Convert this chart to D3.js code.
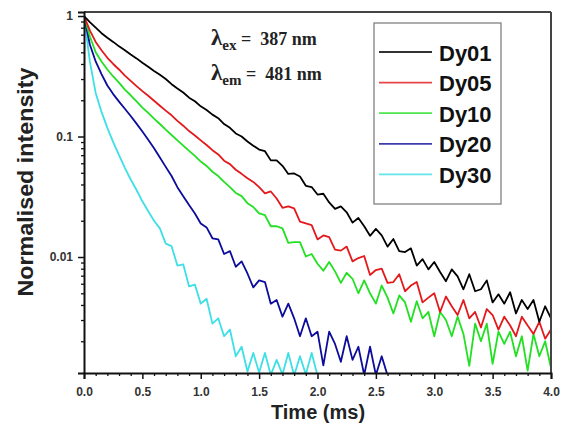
<!DOCTYPE html>
<html>
<head>
<meta charset="utf-8">
<script src="https://cdn.jsdelivr.net/npm/d3@7"></script>
<style>
  html, body { margin: 0; padding: 0; background: #fff; }
  svg { display: block; }
</style>
</head>
<body>
<svg id="chart" width="563" height="425"></svg>
<script>
// ---- Data ----
const seriesNames = ["Dy01", "Dy05", "Dy10", "Dy20", "Dy30"];
const sampleStep = 0.05; // ms between samples
const xTickLabels = ["0.0", "0.5", "1.0", "1.5", "2.0", "2.5", "3.0", "3.5", "4.0"];
const yTickValues = [1, 0.1, 0.01];
const yTickLabels = ["1", "0.1", "0.01"];
const annotation1 = { sym: "λ", sub: "ex", rest: " =\u00a0 387 nm" };
const annotation2 = { sym: "λ", sub: "em", rest: " =\u00a0 481 nm" };

const dy01 = [1.0, 0.89, 0.80, 0.72, 0.66, 0.61, 0.56, 0.52, 0.48, 0.445,
  0.41, 0.38, 0.35, 0.325, 0.30, 0.272, 0.25, 0.232, 0.21, 0.196,
  0.178, 0.166, 0.152, 0.142, 0.127, 0.118, 0.106, 0.100, 0.091, 0.084,
  0.078, 0.0756, 0.0634, 0.0634, 0.0571, 0.0489, 0.0494, 0.0466, 0.039, 0.0381,
  0.033, 0.0335, 0.0284, 0.0251, 0.0263, 0.0235, 0.0193, 0.0211, 0.018, 0.015,
  0.0171, 0.0151, 0.0122, 0.0141, 0.0112, 0.011, 0.0118, 0.0085, 0.0096, 0.0079,
  0.0091, 0.0075, 0.0063, 0.0079, 0.0069, 0.0054, 0.0072, 0.0052, 0.0054, 0.0064,
  0.0042, 0.0049, 0.0041, 0.0051, 0.0034, 0.0044, 0.0037, 0.0044, 0.0029, 0.0039, 0.0031];

const dy05 = [1.0, 0.76, 0.61, 0.52, 0.45, 0.40, 0.36, 0.32, 0.29, 0.262,
  0.238, 0.218, 0.198, 0.180, 0.164, 0.150, 0.135, 0.123, 0.111, 0.102,
  0.093, 0.085, 0.077, 0.071, 0.063, 0.059, 0.053, 0.049, 0.045, 0.042,
  0.038, 0.0337, 0.035, 0.0306, 0.0256, 0.0263, 0.0253, 0.0197, 0.019, 0.0184,
  0.014, 0.0151, 0.0146, 0.0115, 0.0113, 0.0122, 0.0092, 0.0098, 0.0102, 0.0071,
  0.0078, 0.008, 0.0061, 0.0062, 0.0072, 0.0052, 0.0058, 0.0062, 0.0042, 0.0046,
  0.005, 0.0035, 0.0047, 0.0039, 0.0033, 0.0044, 0.0031, 0.0035, 0.0026, 0.0037,
  0.0033, 0.0025, 0.0032, 0.0027, 0.0022, 0.0032, 0.0027, 0.0023, 0.0029, 0.0021, 0.0025];

const dy10 = [1.0, 0.68, 0.50, 0.42, 0.36, 0.315, 0.28, 0.245, 0.22, 0.196,
  0.174, 0.157, 0.141, 0.127, 0.114, 0.103, 0.093, 0.084, 0.076, 0.069,
  0.062, 0.057, 0.051, 0.047, 0.042, 0.038, 0.034, 0.032, 0.028, 0.026,
  0.023, 0.0223, 0.018, 0.018, 0.0173, 0.0131, 0.0133, 0.0133, 0.0101, 0.0106,
  0.0088, 0.0077, 0.0091, 0.0076, 0.0061, 0.0074, 0.0066, 0.005, 0.0064, 0.005,
  0.0041, 0.0058, 0.0046, 0.0034, 0.0048, 0.0042, 0.0029, 0.0043, 0.0031, 0.0035,
  0.0022, 0.0035, 0.003, 0.0022, 0.0032, 0.0023, 0.00125, 0.0028, 0.002, 0.0028,
  0.0013, 0.0024, 0.0019, 0.0024, 0.0015, 0.0022, 0.00114, 0.0023, 0.0015, 0.002, 0.0012];

const dy20 = [1.0, 0.58, 0.42, 0.33, 0.265, 0.225, 0.195, 0.17, 0.148, 0.128,
  0.11, 0.094, 0.080, 0.067, 0.056, 0.047, 0.038, 0.032, 0.027, 0.023,
  0.019, 0.0176, 0.0143, 0.014, 0.0106, 0.0112, 0.0083, 0.0092, 0.0073, 0.0056,
  0.0064, 0.0062, 0.0041, 0.0044, 0.0032, 0.0041, 0.0031, 0.0022, 0.0031, 0.0022,
  0.0024, 0.00126, 0.0024, 0.0019, 0.00135, 0.0022, 0.0014, 0.0018, 0.00105, 0.0018,
  0.00105, 0.0015, 0.00104];

const dy30 = [1.0, 0.42, 0.23, 0.16, 0.118, 0.09, 0.070, 0.055, 0.044, 0.036,
  0.029, 0.024, 0.020, 0.0173, 0.0129, 0.0123, 0.0085, 0.0087, 0.0057, 0.0059,
  0.0041, 0.0045, 0.0028, 0.0031, 0.0022, 0.0025, 0.0015, 0.0018, 0.00112, 0.0016,
  0.0011, 0.0016, 0.00105, 0.0014, 0.00106, 0.0016, 0.00104, 0.0015, 0.00106, 0.0016, 0.00104];

const seriesValues = [dy01, dy05, dy10, dy20, dy30];
const seriesColors = ["#000000", "#e3191c", "#22e022", "#0c0c9c", "#3de0e6"];

// ---- Layout ----
const svg = d3.select("#chart");
const L = 84, R = 551, T = 12, B = 373;
const x = d3.scaleLinear().domain([0, 4]).range([L, R]);
const y = d3.scaleLog().domain([0.00109, 1.08]).range([B, T]);

svg.append("rect").attr("width", 563).attr("height", 425).attr("fill", "#fff");

svg.append("defs").append("clipPath").attr("id", "clip")
  .append("rect").attr("x", L).attr("y", T).attr("width", R - L).attr("height", B - T);

// ---- Curves ----
const line = d3.line()
  .x((d, i) => x(i * sampleStep))
  .y(d => y(d));

const curves = svg.append("g").attr("clip-path", "url(#clip)");
for (let s = seriesValues.length - 1; s >= 0; s--) {
  curves.append("path")
    .attr("d", line(seriesValues[s]))
    .attr("fill", "none")
    .attr("stroke", seriesColors[s])
    .attr("stroke-width", 1.8)
    .attr("stroke-linejoin", "round");
}

// ---- Frame ----
svg.append("line").attr("x1", L).attr("x2", R).attr("y1", T).attr("y2", T)
  .attr("stroke", "#444").attr("stroke-width", 2);
svg.append("line").attr("x1", R).attr("x2", R).attr("y1", T).attr("y2", B)
  .attr("stroke", "#444").attr("stroke-width", 2);

// ---- X axis ----
const xMajor = xTickLabels.map(Number);
const xMinor = d3.range(0, 41).map(i => i / 10).filter(v => Math.abs(v * 2 - Math.round(v * 2)) > 1e-6);
const xAxis = d3.axisBottom(x).tickValues(xMajor).tickFormat((d, i) => xTickLabels[i]).tickSize(6).tickPadding(8);
const gx = svg.append("g").attr("transform", `translate(0,${B})`).call(xAxis);
gx.select(".domain").attr("stroke", "#111").attr("stroke-width", 2);
gx.selectAll(".tick line").attr("stroke", "#111").attr("stroke-width", 1.5);
gx.selectAll(".tick text").attr("font-family", "Liberation Sans, Arial, sans-serif")
  .attr("font-weight", "bold").attr("font-size", 12).attr("fill", "#333");
const gxm = svg.append("g").attr("transform", `translate(0,${B})`)
  .call(d3.axisBottom(x).tickValues(xMinor).tickFormat("").tickSize(3));
gxm.select(".domain").remove();
gxm.selectAll(".tick line").attr("stroke", "#111").attr("stroke-width", 1.3);

// ---- Y axis ----
const yAxis = d3.axisLeft(y).tickValues(yTickValues).tickFormat((d, i) => yTickLabels[i]).tickSize(6).tickPadding(5);
const gy = svg.append("g").attr("transform", `translate(${L},0)`).call(yAxis);
gy.select(".domain").attr("stroke", "#111").attr("stroke-width", 2);
gy.selectAll(".tick line").attr("stroke", "#111").attr("stroke-width", 1.5);
gy.selectAll(".tick text").attr("font-family", "Liberation Sans, Arial, sans-serif")
  .attr("font-weight", "bold").attr("font-size", 12).attr("fill", "#333");
const yMinor = [];
[0.001, 0.01, 0.1].forEach(dec => { for (let k = 2; k <= 9; k++) yMinor.push(dec * k); });
const gym = svg.append("g").attr("transform", `translate(${L},0)`)
  .call(d3.axisLeft(y).tickValues(yMinor).tickFormat("").tickSize(3));
gym.select(".domain").remove();
gym.selectAll(".tick line").attr("stroke", "#111").attr("stroke-width", 1.3);

// ---- Axis titles ----
svg.append("text")
  .attr("transform", "translate(33,182) rotate(-90)")
  .attr("text-anchor", "middle")
  .attr("font-family", "Liberation Sans, Arial, sans-serif")
  .attr("font-weight", "bold").attr("font-size", 22).attr("fill", "#222")
  .attr("textLength", 229).attr("lengthAdjust", "spacingAndGlyphs")
  .text("Normalised intensity");

svg.append("text")
  .attr("x", 318).attr("y", 419)
  .attr("text-anchor", "middle")
  .attr("font-family", "Liberation Sans, Arial, sans-serif")
  .attr("font-weight", "bold").attr("font-size", 20).attr("fill", "#222")
  .text("Time (ms)");

// ---- Annotation ----
function annot(a, yb) {
  const t = svg.append("text").attr("x", 211).attr("y", yb)
    .attr("font-family", "Liberation Serif, Times New Roman, serif")
    .attr("font-weight", "bold").attr("fill", "#222");
  t.append("tspan").attr("font-size", 23).text(a.sym);
  t.append("tspan").attr("font-size", 15).attr("dy", 5).text(a.sub);
  t.append("tspan").attr("font-size", 18).attr("dy", -5).text(a.rest);
}
annot(annotation1, 45);
annot(annotation2, 80);

// ---- Legend ----
const lg = svg.append("g");
lg.append("rect").attr("x", 374).attr("y", 23).attr("width", 127).attr("height", 181)
  .attr("fill", "#fff").attr("stroke", "#777").attr("stroke-width", 1.2);
seriesNames.forEach((name, i) => {
  const cy = 52 + i * 30.6;
  lg.append("line").attr("x1", 379).attr("x2", 432).attr("y1", cy).attr("y2", cy)
    .attr("stroke", seriesColors[i]).attr("stroke-width", 1.8).attr("opacity", 0.8);
  lg.append("text").attr("x", 439).attr("y", cy + 8.5)
    .attr("font-family", "Liberation Sans, Arial, sans-serif")
    .attr("font-weight", "bold").attr("font-size", 22).attr("fill", "#111")
    .text(name);
});
</script>
</body>
</html>
